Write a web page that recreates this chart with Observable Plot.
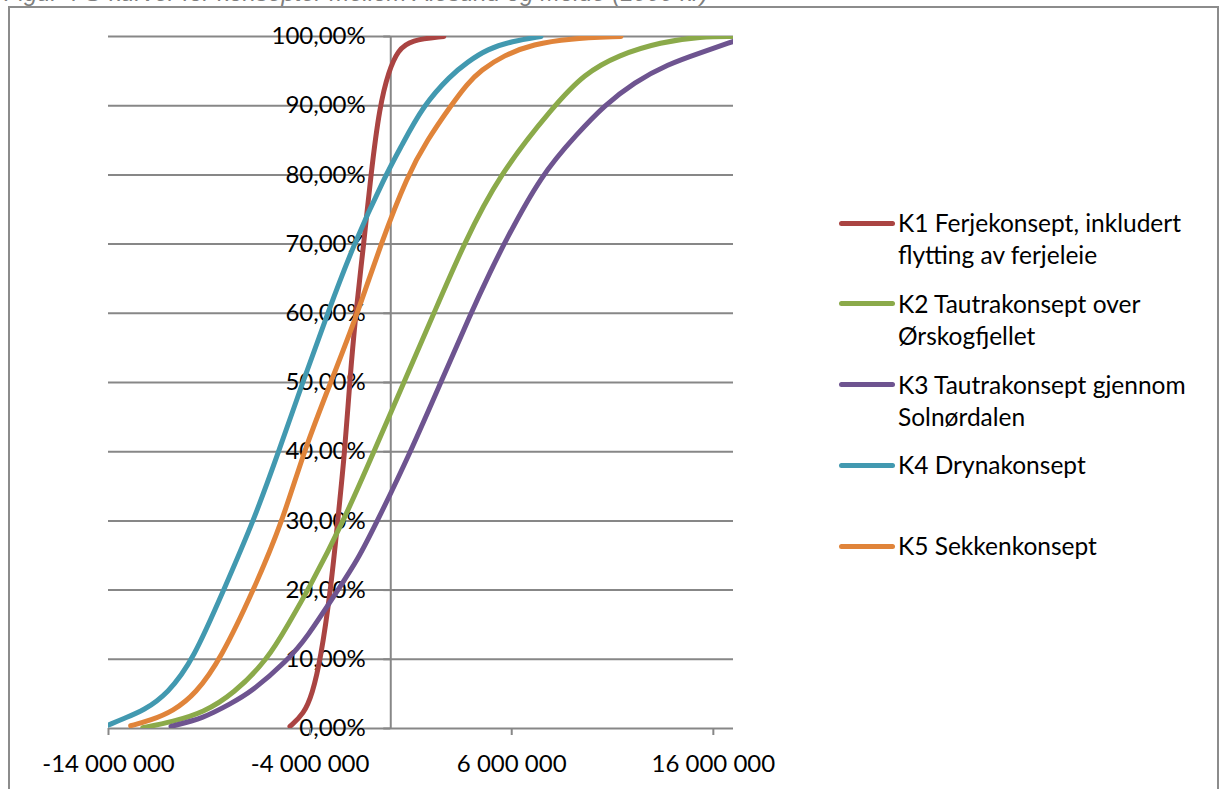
<!DOCTYPE html>
<html><head><meta charset="utf-8">
<script src="https://cdn.jsdelivr.net/npm/d3@7"></script>
<script src="https://cdn.jsdelivr.net/npm/@observablehq/plot@0.6"></script>
<style>
body{margin:0;background:#fff;font-family:Lato,sans-serif;}
#wrap{position:relative;width:1220px;height:789px;overflow:hidden;background:#fff;}
#chart{position:absolute;left:0;top:0;}
#frame{position:absolute;left:8px;top:6px;width:1207px;height:820px;border:2px solid #8c8c8c;pointer-events:none;}
#title{position:absolute;left:4px;top:-21px;font-style:italic;color:#7f7f7f;font-size:24px;line-height:28px;white-space:nowrap;font-family:"Liberation Sans",Arial,sans-serif;}
.item{position:absolute;left:898px;font-size:24.5px;line-height:32px;color:#000;white-space:nowrap;}
.sw{position:absolute;left:839px;width:56px;height:5px;border-radius:3px;}
</style></head><body>
<div id="wrap"><div id="chart"></div><div id="legend"></div><div id="frame"></div>
<div id="title">Figur 4 S-kurver for konsepter mellom Ålesund og Molde (1000 kr)</div></div>
<script>
// ---- data (x in kr, y in %) ----
const seriesNames = ["K1","K2","K3","K4","K5"];
const legendLines = [
  ["K1 Ferjekonsept, inkludert","flytting av ferjeleie"],
  ["K2 Tautrakonsept over","Ørskogfjellet"],
  ["K3 Tautrakonsept gjennom","Solnørdalen"],
  ["K4 Drynakonsept"],
  ["K5 Sekkenkonsept"]
];
const seriesColors = ["#AA4442","#8BAA4A","#6E5490","#4299B0","#E0843A"];

const k1X = [-5.0,-4.31,-3.89,-3.48,-2.98,-2.63,-2.28,-2.04,-1.74,-1.34,-0.99,-0.55,-0.1,0.35,0.99,2.63].map(v=>v*1e6);
const k1Y = [0.3,2.1,5,10,20,30,40,50,60,70,80,90,95,98,99.5,100];

const k2X = [-12.3,-10.8,-9.3,-7.8,-6.1,-5.1,-4.1,-2.33,-0.84,0.65,2.14,3.62,5.36,8.1,9.6,11.27,13.4,15.4,17.0].map(v=>v*1e6);
const k2Y = [0.1,1,2.3,5,10,15,20,30,40,50,60,70,80,90,94.6,97.3,99.2,100,100];

const k3X = [-10.9,-9.27,-7.94,-6.95,-5.13,-4.14,-2.65,-1.65,-0.66,0.99,2.48,3.97,4.97,5.61,7.45,9.27,10.58,12.08,13.74,15.4,17.0].map(v=>v*1e6);
const k3Y = [0.3,1.5,3.6,5.2,9.8,13.2,19.9,24.3,30,40,50,60,66.2,70,80,86,90,93.4,96,97.7,99.3];

const k4X = [-14,-13.2,-12.26,-11.07,-9.78,-8.29,-6.8,-5.56,-4.37,-3.13,-1.84,-0.25,0.5,1.6,2.98,3.8,4.8,6.0,7.45].map(v=>v*1e6);
const k4Y = [0.5,1.5,2.6,5,10,20,30,40,50,60,70,80,84,90,94.4,96.3,98.2,99.3,100];

const k5X = [-12.9,-11.9,-10.8,-9.68,-8.44,-6.8,-5.36,-4.32,-2.98,-1.64,-0.5,0.84,1.8,2.98,3.8,4.47,5.6,7.1,8.8,11.42].map(v=>v*1e6);
const k5Y = [0.4,1.2,2.5,5,10,20,30,40,50,60,70,80,85,90,93.2,95.1,97.3,98.9,99.7,100];

const xTicks = [-14e6,-4e6,6e6,16e6];
const yTicks = [0,10,20,30,40,50,60,70,80,90,100];

// ---- build table ----
const allX = [k1X,k2X,k3X,k4X,k5X], allY = [k1Y,k2Y,k3Y,k4Y,k5Y];
const rows = [];
seriesNames.forEach((s,i)=>allX[i].forEach((x,j)=>rows.push({series:s,x,y:allY[i][j]})));

const fmtX = v => (v<0?"-":"") + Math.abs(v).toString().replace(/\B(?=(\d{3})+(?!\d))/g," ");
const fmtY = v => v.toFixed(2).replace(".",",") + "%";
const gray = "#878787";

const chart = Plot.plot({
  width:1220, height:789,
  marginLeft:108, marginRight:487, marginTop:36, marginBottom:61,
  x:{domain:[-14e6,17e6]},
  y:{domain:[0,100], axis:null},
  color:{domain:seriesNames, range:seriesColors},
  style:{fontFamily:"Lato, sans-serif", fontSize:"24px", background:"transparent", overflow:"visible"},
  marks:[
    Plot.gridY(yTicks,{stroke:gray, strokeOpacity:1, strokeWidth:2}),
    Plot.ruleX([0],{stroke:gray, strokeWidth:2}),
    Plot.ruleY(yTicks,{x1:0, x2:0, insetLeft:-7, stroke:gray, strokeWidth:2}),
    Plot.text(yTicks,{x:0, y:d=>d, text:fmtY, textAnchor:"end", dx:-25, fill:"#000", fontSize:24}),
    Plot.axisX(xTicks,{tickFormat:fmtX, stroke:gray, strokeWidth:2, tickSize:7, tickPadding:19, fill:"#000", fontSize:24, label:null}),
    Plot.line(rows,{x:"x", y:"y", z:"series", stroke:"series", strokeWidth:5, curve:"basis", clip:true, strokeLinejoin:"round", strokeLinecap:"round"})
  ]
});
document.getElementById("chart").appendChild(chart);

// ---- legend ----
const lg = document.getElementById("legend");
legendLines.forEach((lines,i)=>{
  const c = 223 + i*80.75;
  const sw = document.createElement("div");
  sw.className="sw"; sw.style.top=(c-2.5)+"px"; sw.style.background=seriesColors[i];
  lg.appendChild(sw);
  const t = document.createElement("div");
  t.className="item"; t.style.top=(c-16)+"px";
  t.innerHTML = lines.join("<br>");
  lg.appendChild(t);
});
</script>
</body></html>
